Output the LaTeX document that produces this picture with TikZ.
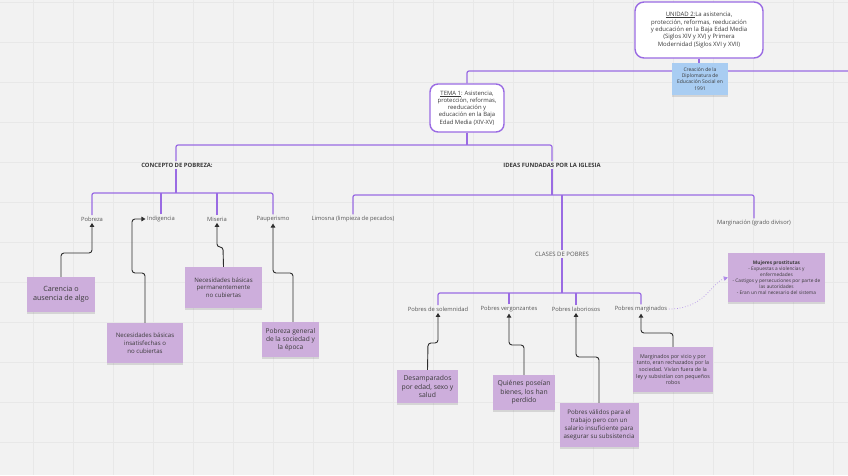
\documentclass[tikz,border=0pt]{standalone}
\usepackage{fontspec}
\setmainfont{Open Sans}
\usetikzlibrary{arrows.meta,shadows}
\definecolor{bgc}{HTML}{F2F2F2}
\definecolor{gridc}{HTML}{E8E8E8}
\definecolor{pline}{HTML}{9A6BE3}
\definecolor{notec}{HTML}{CDAEDC}
\definecolor{bluec}{HTML}{A9CDF2}
\definecolor{txt}{HTML}{3A3A3A}
\definecolor{conc}{HTML}{2E2E2E}
\hyphenpenalty=10000
\exhyphenpenalty=10000
\newcommand\myul[1]{\setbox0\hbox{#1}\rlap{\rule[-1.1pt]{\wd0}{0.35pt}}\box0}
\tikzset{
  pl/.style={draw=pline,line width=1.2pt,rounded corners=2pt},
  lbl/.style={font=\fontsize{5.8}{7}\selectfont,text=txt!85,inner sep=1.5pt},
  hdr/.style={font=\fontsize{5.9}{7}\selectfont\bfseries,text=txt,inner sep=1.5pt},
  notebox/.style={fill=notec,text=txt,align=center,inner sep=2pt,
    drop shadow={shadow xshift=0pt,shadow yshift=-2pt,opacity=0.25}},
  rbox/.style={draw=pline,line width=1.4pt,fill=white,rounded corners=9pt,
    align=center,text=txt,inner sep=3pt},
  conn/.style={draw=conc,line width=0.9pt,rounded corners=3pt,
    -{Triangle[length=4pt,width=4.5pt]}},
}
\begin{document}
\begin{tikzpicture}[x=1pt,y=-1pt]
\fill[bgc] (0,0) rectangle (848,475);
\useasboundingbox (0,0) rectangle (848,475);
\foreach \gx in {33,73,...,833} \draw[gridc,line width=0.4pt] (\gx,0) -- (\gx,475);
\foreach \gy in {2,42,...,475} \draw[gridc,line width=0.4pt] (0,\gy) -- (848,\gy);

% top boxes
\node[rbox,minimum width=128pt,minimum height=56pt,
  font=\fontsize{6}{7.4}\selectfont] (unidad) at (699,30)
  {\myul{UNIDAD 2:} La asistencia,\\protección, reformas, reeducación\\y educación en la Baja Edad Media\\(Siglos XIV y XV) y Primera\\Modernidad (Siglos XVI y XVII)};
\coordinate (rightend) at (848,71);
\node[rbox,minimum width=74pt,minimum height=48pt,rounded corners=8pt,inner sep=1pt,
  font=\fontsize{5.9}{7.2}\selectfont] (tema) at (467,108)
  {\myul{TEMA 1}: Asistencia,\\protección, reformas,\\reeducación y\\educación en la Baja\\Edad Media (XIV-XV)};
\draw[pl] (tema.north) |- (rightend);
\draw[pl] (unidad.south) -- (unidad.south |- rightend);
\node[fill=bluec,text=txt,align=center,minimum width=56pt,minimum height=32pt,inner sep=1pt,
  font=\fontsize{5}{6.2}\selectfont,drop shadow={shadow xshift=0pt,shadow yshift=-2pt,opacity=0.25}]
  (diplo) at (700,79) {Creación de la\\Diplomatura de\\Educación Social en\\1991};

% level 1
\coordinate (h1) at (467,145);
\node[hdr] (concepto) at (177,165) {CONCEPTO DE POBREZA:};
\node[hdr] (ideas) at (552,165) {IDEAS FUNDADAS POR LA IGLESIA};
\draw[pl] (tema.south) -- (h1);
\draw[pl] (concepto.north -| 176,0) |- (h1) -| (ideas.north);

% concepto children
\coordinate (h2) at (176,193);
\node[lbl] (pobreza) at (92,219) {Pobreza};
\node[lbl] (indig) at (161,219) {Indigencia};
\node[lbl] (miseria) at (217,219) {Miseria};
\node[lbl] (paup) at (273,219) {Pauperismo};
\draw[pl] (concepto.south -| 176,0) -- (h2);
\draw[pl] (pobreza.north) |- (h2) -| (paup.north);
\draw[pl] (indig.north) -- (indig.north |- h2);
\draw[pl] (miseria.north) -- (miseria.north |- h2);

% ideas children
\coordinate (h3) at (552,195);
\node[lbl] (limosna) at (353,219) {Limosna (limpieza de pecados)};
\node[lbl,font=\fontsize{6}{7}\selectfont] (clases) at (562,254) {CLASES DE POBRES};
\node[lbl] (margin) at (754,223) {Marginación (grado divisor)};
\draw[pl] (ideas.south) -- (h3);
\draw[pl] (limosna.north) |- (h3) -| (margin.north);
\draw[pl] (clases.north) -- (clases.north |- h3);

% clases children
\coordinate (h4) at (562,293);
\node[lbl] (solem) at (438,309) {Pobres de solemnidad};
\node[lbl] (vergon) at (509,309) {Pobres vergonzantes};
\node[lbl] (labor) at (576,309) {Pobres laboriosos};
\node[lbl] (margi) at (641,309) {Pobres marginados};
\draw[pl] (clases.south) -- (h4);
\draw[pl] (solem.north) |- (h4) -| (margi.north);
\draw[pl] (vergon.north) -- (vergon.north |- h4);
\draw[pl] (labor.north) -- (labor.north |- h4);

% notes
\node[notebox,minimum width=68pt,minimum height=35pt,font=\fontsize{7.2}{9}\selectfont]
  (carencia) at (61,294.5) {Carencia o\\ausencia de algo};
\node[notebox,minimum width=76pt,minimum height=40pt,font=\fontsize{6.1}{7.8}\selectfont]
  (necbas) at (145,343) {Necesidades básicas\\insatisfechas o\\no cubiertas};
\node[notebox,minimum width=77pt,minimum height=41pt,font=\fontsize{6.1}{7.8}\selectfont]
  (necperm) at (223.5,287.5) {Necesidades básicas\\permanentemente\\no cubiertas};
\node[notebox,minimum width=57pt,minimum height=35pt,inner sep=1pt,font=\fontsize{6.6}{8}\selectfont]
  (pobgen) at (290.5,339.5) {Pobreza general\\de la sociedad y\\la época};
\node[notebox,minimum width=61pt,minimum height=33pt,inner sep=1pt,font=\fontsize{6.8}{8.4}\selectfont]
  (desamp) at (427.5,386.5) {Desamparados\\por edad, sexo y\\salud};
\node[notebox,minimum width=62pt,minimum height=35pt,inner sep=1pt,font=\fontsize{6.8}{8.4}\selectfont]
  (quien) at (524,392.5) {Quiénes poseían\\bienes, los han\\perdido};
\node[notebox,minimum width=79pt,minimum height=44pt,inner sep=1pt,font=\fontsize{6.2}{7.8}\selectfont]
  (valid) at (599,425) {Pobres válidos para el\\trabajo pero con un\\salario insuficiente para\\asegurar su subsistencia};
\node[notebox,minimum width=80pt,minimum height=45pt,inner sep=1pt,font=\fontsize{5.3}{6.6}\selectfont]
  (margbox) at (673,369.5) {Marginados por vicio y por\\tanto, eran rechazados por la\\sociedad. Vivían fuera de la\\ley y subsistían con pequeños\\robos};
\node[notebox,minimum width=97pt,minimum height=49pt,inner sep=1pt,font=\fontsize{4.8}{6.1}\selectfont]
  (mujeres) at (776.5,277.5) {{\bfseries Mujeres prostitutas}\\- Expuestas a violencias y\\enfermedades\\- Castigos y persecuciones por parte de\\las autoridades\\- Eran un mal necesario del sistema};

% connectors
\draw[conn] (carencia.north) -- (61,253) -| (pobreza.south);
\draw[conn] (necbas.north) -- (145,273) -- (132,273) |- (indig.west);
\draw[conn] (necperm.north) -- (223,247) -- (217,247) -- (miseria.south);
\draw[conn] (pobgen.north -| 293,0) -- (293,273) -- (273,273) -- (paup.south);
\draw[conn] (desamp.north) -- (428,343) -- (438,343) -- (solem.south);
\draw[conn] (quien.north) -- (524,345) -- (509,345) -- (vergon.south);
\draw[conn] (valid.north) -- (599,357) -- (576,357) -- (labor.south);
\draw[conn] (margbox.north) -- (673,333) -- (641,333) -- (margi.south);
\draw[pline!80,line width=0.7pt,dotted,-{Triangle[length=4pt,width=4.5pt]}]
  (margi.east) .. controls (705,309) and (712,282) .. (mujeres.west);
\end{tikzpicture}
\end{document}
